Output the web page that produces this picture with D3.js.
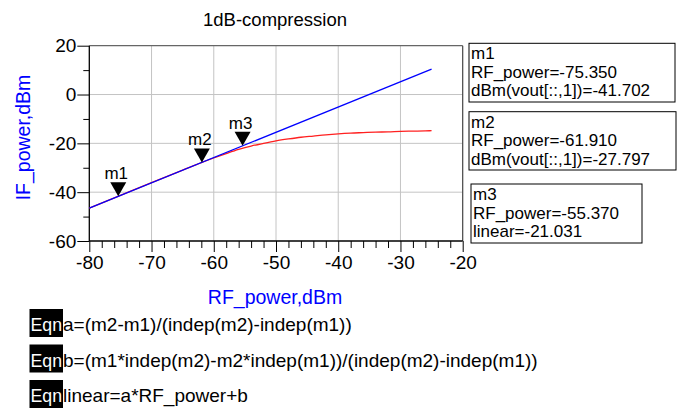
<!DOCTYPE html>
<html>
<head>
<meta charset="utf-8">
<script src="https://cdn.jsdelivr.net/npm/d3@7"></script>
<style>
  body { margin: 0; background: #fff; }
  svg { font-family: "Liberation Sans", Arial, sans-serif; }
</style>
</head>
<body>
<div id="chart-area"></div>
<script>
// data
var rfPower = [-80, -75, -70, -65, -62, -60, -58, -56, -54, -52, -50, -48, -46, -44, -42, -40, -38, -36, -34, -32, -30, -28, -26, -25];
var ifPower = [-46.5, -41.3, -36.1, -31.0, -27.9, -26.0, -24.2, -22.5, -21.1, -20.0, -19.0, -18.2, -17.5, -17.0, -16.5, -16.1, -15.8, -15.6, -15.4, -15.3, -15.1, -15.0, -14.9, -14.8];
var linearX = [-80, -25];
var linearY = [-46.5, 10.4];

var markerNames = ["m1", "m2", "m3"];
var markerX = [-75.35, -61.91, -55.37];
var markerY = [-41.702, -27.797, -21.031];
var markerText = [
  ["m1", "RF_power=-75.350", "dBm(vout[::,1])=-41.702"],
  ["m2", "RF_power=-61.910", "dBm(vout[::,1])=-27.797"],
  ["m3", "RF_power=-55.370", "linear=-21.031"]
];

var xTicks = [-80, -70, -60, -50, -40, -30, -20];
var yTicks = [-60, -40, -20, 0, 20];
var eqns = [
  "a=(m2-m1)/(indep(m2)-indep(m1))",
  "b=(m1*indep(m2)-m2*indep(m1))/(indep(m2)-indep(m1))",
  "linear=a*RF_power+b"
];

var svg = d3.select("#chart-area").append("svg").attr("width", 694).attr("height", 410);

var x = d3.scaleLinear().domain([-80, -20]).range([89.3, 462.7]);
var y = d3.scaleLinear().domain([-60, 20]).range([241, 45.7]);

// grid
svg.append("g").selectAll("line").data(xTicks.slice(1, -1)).enter().append("line")
  .attr("x1", function (d) { return x(d); }).attr("x2", function (d) { return x(d); })
  .attr("y1", y(20)).attr("y2", y(-60))
  .attr("stroke", "#c4c4c4").attr("stroke-width", 1);
svg.append("g").selectAll("line").data(yTicks.slice(1, -1)).enter().append("line")
  .attr("x1", x(-80)).attr("x2", x(-20))
  .attr("y1", function (d) { return y(d); }).attr("y2", function (d) { return y(d); })
  .attr("stroke", "#c4c4c4").attr("stroke-width", 1);

// top and right frame
svg.append("line").attr("x1", x(-80)).attr("x2", x(-20)).attr("y1", y(20)).attr("y2", y(20))
  .attr("stroke", "#666").attr("stroke-width", 1.2);
svg.append("line").attr("x1", x(-20)).attr("x2", x(-20)).attr("y1", y(20)).attr("y2", y(-60))
  .attr("stroke", "#444").attr("stroke-width", 1.2);

// axes
var xAxis = d3.axisBottom(x).tickValues(d3.range(-80, -19, 2)).tickSize(7)
  .tickFormat(function (d) { return xTicks.indexOf(d) >= 0 ? d : ""; });
var gx = svg.append("g").attr("transform", "translate(0," + y(-60) + ")").call(xAxis);
gx.select(".domain").attr("stroke", "#000").attr("stroke-width", 1.3).attr("d", "M" + x(-80) + ",0H" + x(-20));
gx.selectAll(".tick line").attr("stroke", "#000").attr("y2", function (d) { return xTicks.indexOf(d) >= 0 ? 11 : 7; });
gx.selectAll(".tick text").attr("y", 15).attr("font-size", "19px").attr("font-family", "Liberation Sans, Arial, sans-serif").attr("fill", "#000");

var yAxis = d3.axisLeft(y).tickValues(d3.range(-60, 21, 10)).tickSize(6)
  .tickFormat(function (d) { return yTicks.indexOf(d) >= 0 ? d : ""; });
var gy = svg.append("g").attr("transform", "translate(" + x(-80) + ",0)").call(yAxis);
gy.select(".domain").attr("stroke", "#000").attr("stroke-width", 1.3).attr("d", "M0," + y(20) + "V" + y(-60));
gy.selectAll(".tick line").attr("stroke", "#000").attr("x2", function (d) { return yTicks.indexOf(d) >= 0 ? -12 : -6; });
gy.selectAll(".tick text").attr("x", -13).attr("font-size", "19px").attr("font-family", "Liberation Sans, Arial, sans-serif").attr("fill", "#000");

// lines
var line = d3.line().x(function (d) { return x(d[0]); }).y(function (d) { return y(d[1]); });
svg.append("path").datum(d3.zip(rfPower, ifPower)).attr("d", line.curve(d3.curveMonotoneX))
  .attr("fill", "none").attr("stroke", "#ff2020").attr("stroke-width", 1.3);
svg.append("path").datum(d3.zip(linearX, linearY)).attr("d", d3.line().x(function (d) { return x(d[0]); }).y(function (d) { return y(d[1]); }))
  .attr("fill", "none").attr("stroke", "#0000ff").attr("stroke-width", 1.3);

// markers
markerNames.forEach(function (name, i) {
  var px = x(markerX[i]), py = y(markerY[i]);
  svg.append("path").attr("d", "M" + (px - 8) + "," + (py - 14) + "L" + (px + 8) + "," + (py - 14) + "L" + px + "," + py + "Z")
    .attr("fill", "#000");
  svg.append("text").attr("x", px - 2).attr("y", py - 17).attr("text-anchor", "middle")
    .attr("font-size", "17px").text(name);
});

// marker readout boxes
var boxes = [
  { x: 469, y: 43.3, w: 206, h: 58.7 },
  { x: 469, y: 111.7, w: 207, h: 58.3 },
  { x: 471, y: 184, w: 171, h: 59 }
];
markerText.forEach(function (lines, i) {
  var b = boxes[i];
  svg.append("rect").attr("x", b.x).attr("y", b.y).attr("width", b.w).attr("height", b.h)
    .attr("fill", "none").attr("stroke", "#000").attr("stroke-width", 1);
  lines.forEach(function (t, j) {
    svg.append("text").attr("x", b.x + 2).attr("y", b.y + 16 + j * 18.5)
      .attr("font-size", "17px").text(t);
  });
});

// titles
svg.append("text").attr("x", 275).attr("y", 26).attr("text-anchor", "middle").attr("font-size", "18.5px").text("1dB-compression");
svg.append("text").attr("x", 275).attr("y", 304).attr("text-anchor", "middle").attr("font-size", "19.5px").attr("fill", "#0000ff").text("RF_power,dBm");
svg.append("text").attr("transform", "translate(30,137.5) rotate(-90)").attr("text-anchor", "middle")
  .attr("font-size", "19.5px").attr("fill", "#0000ff").text("IF_power,dBm");

// equations
eqns.forEach(function (e, i) {
  var by = 309 + i * 35.5;
  svg.append("rect").attr("x", 29.5).attr("y", by).attr("width", 33.5).attr("height", 28).attr("fill", "#000");
  svg.append("text").attr("x", 30.5).attr("y", by + 22).attr("font-size", "19px").attr("fill", "#fff")
    .attr("textLength", 31.5).attr("lengthAdjust", "spacingAndGlyphs").text("Eqn");
  svg.append("text").attr("x", 63).attr("y", by + 22).attr("font-size", "19px").text(e);
});
</script>
</body>
</html>
